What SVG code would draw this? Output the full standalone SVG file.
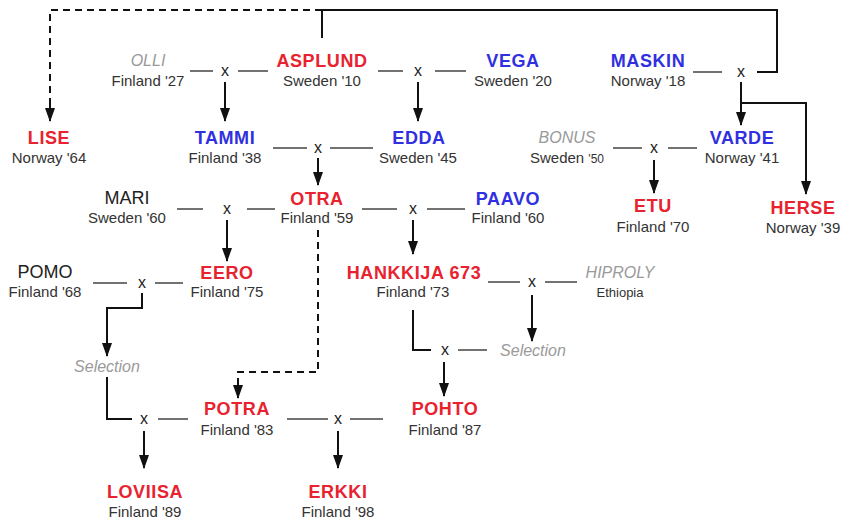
<svg xmlns="http://www.w3.org/2000/svg" width="851" height="521" viewBox="0 0 851 521">
<style>
text{font-family:"Liberation Sans",Arial,sans-serif;text-anchor:middle}
.n{font-size:18px;font-weight:bold;letter-spacing:0.6px}
.r{fill:#e8222e}
.b{fill:#3030e0}
.k{fill:#222;font-size:18px}
.g{fill:#9a9a9a;font-size:16px;font-style:italic}
.s{fill:#333;font-size:15px}
.e{fill:#333;font-size:13px}
.x{fill:#222;font-size:16px}
.t{stroke:#444;stroke-width:1.5;fill:none}
.a{stroke:#111;stroke-width:2;fill:none}
.d{stroke:#111;stroke-width:2;fill:none;stroke-dasharray:7 5}
.m{marker-end:url(#ah)}
</style>
<defs>
<marker id="ah" viewBox="0 0 14 10" refX="13" refY="5" markerWidth="14" markerHeight="10" markerUnits="userSpaceOnUse" orient="auto">
<path d="M0,0 L14,5 L0,10 z" fill="#111"/>
</marker>
</defs>
<rect width="851" height="521" fill="#fff"/>
<g id="connectors">
<path class="d" d="M322,10 H50 V110"/>
<path class="d m" d="M50,105 V121"/>
<path class="a" d="M322,38 V10 H777 V72 H757"/>
<path class="t" d="M190,71 H213 M238,71 H268 M378,71 H403 M435,71 H466 M693,72 H722"/>
<path class="t" d="M273,148 H307 M330,148 H373 M613,148 H642 M668,148 H697"/>
<path class="t" d="M177,209 H203 M247,209 H275 M362,209 H397 M427,209 H465"/>
<path class="t" d="M93,283 H127 M155,283 H183 M488,282 H520 M545,282 H577 M458,350 H487"/>
<path class="t" d="M158,419 H188 M287,419 H328 M350,419 H383"/>
<path class="a m" d="M225,82 V121"/>
<path class="a m" d="M418,82 V121"/>
<path class="a m" d="M741,82 V125"/>
<path class="a m" d="M741,103 H806 V194"/>
<path class="a m" d="M318,158 V185"/>
<path class="a m" d="M654,160 V193"/>
<path class="a m" d="M227,220 V261"/>
<path class="a m" d="M413,220 V254"/>
<path class="a m" d="M532,295 V341"/>
<path class="a" d="M413,310 V350 H431"/>
<path class="a m" d="M444,362 V396"/>
<path class="a m" d="M142,293 V308 H107 V356"/>
<path class="a" d="M107,377 V419 H132"/>
<path class="a m" d="M144,431 V468"/>
<path class="a m" d="M338,431 V468"/>
<path class="d" d="M318,230 V372 H238 V385"/>
<path class="a m" d="M238,383 V398"/>
</g>
<g id="crosses">
<text class="x" x="225" y="76">x</text>
<text class="x" x="418" y="76">x</text>
<text class="x" x="741" y="77">x</text>
<text class="x" x="318" y="153">x</text>
<text class="x" x="654" y="153">x</text>
<text class="x" x="227" y="214">x</text>
<text class="x" x="413" y="214">x</text>
<text class="x" x="142" y="288">x</text>
<text class="x" x="532" y="287">x</text>
<text class="x" x="445" y="355">x</text>
<text class="x" x="144" y="424">x</text>
<text class="x" x="338" y="424">x</text>
</g>
<g id="lise"><text class="n r" x="49" y="144">LISE</text><text class="s" x="49" y="163">Norway '64</text></g>
<g id="olli"><text class="g" x="148" y="66">OLLI</text><text class="s" x="148" y="86">Finland '27</text></g>
<g id="asplund"><text class="n r" x="322" y="67">ASPLUND</text><text class="s" x="322" y="86">Sweden '10</text></g>
<g id="vega"><text class="n b" x="513" y="67">VEGA</text><text class="s" x="513" y="86">Sweden '20</text></g>
<g id="maskin"><text class="n b" x="648" y="67">MASKIN</text><text class="s" x="648" y="86">Norway '18</text></g>
<g id="tammi"><text class="n b" x="225" y="144">TAMMI</text><text class="s" x="225" y="163">Finland '38</text></g>
<g id="edda"><text class="n b" x="419" y="144">EDDA</text><text class="s" x="418" y="163">Sweden '45</text></g>
<g id="bonus"><text class="g" x="567" y="143">BONUS</text><text class="s" x="567" y="163">Sweden <tspan font-size="12">'50</tspan></text></g>
<g id="varde"><text class="n b" x="742" y="144">VARDE</text><text class="s" x="742" y="163">Norway '41</text></g>
<g id="mari"><text class="k" x="127" y="204">MARI</text><text class="s" x="127" y="223">Sweden '60</text></g>
<g id="otra"><text class="n r" x="317" y="205">OTRA</text><text class="s" x="317" y="223">Finland '59</text></g>
<g id="paavo"><text class="n b" x="508" y="205">PAAVO</text><text class="s" x="508" y="223">Finland '60</text></g>
<g id="etu"><text class="n r" x="653" y="212">ETU</text><text class="s" x="653" y="232">Finland '70</text></g>
<g id="herse"><text class="n r" x="803" y="214">HERSE</text><text class="s" x="803" y="233">Norway '39</text></g>
<g id="pomo"><text class="k" x="45" y="278">POMO</text><text class="s" x="45" y="297">Finland '68</text></g>
<g id="eero"><text class="n r" x="227" y="279">EERO</text><text class="s" x="227" y="297">Finland '75</text></g>
<g id="hankkija"><text class="n r" x="414" y="279">HANKKIJA 673</text><text class="s" x="413" y="297">Finland '73</text></g>
<g id="hiproly"><text class="g" x="620" y="278">HIPROLY</text><text class="e" x="620" y="297">Ethiopia</text></g>
<g id="selection1"><text class="g" x="107" y="372">Selection</text></g>
<g id="selection2"><text class="g" x="533" y="356">Selection</text></g>
<g id="potra"><text class="n r" x="237" y="415">POTRA</text><text class="s" x="237" y="435">Finland '83</text></g>
<g id="pohto"><text class="n r" x="445" y="415">POHTO</text><text class="s" x="445" y="435">Finland '87</text></g>
<g id="loviisa"><text class="n r" x="145" y="498">LOVIISA</text><text class="s" x="145" y="517">Finland '89</text></g>
<g id="erkki"><text class="n r" x="338" y="498">ERKKI</text><text class="s" x="338" y="517">Finland '98</text></g>
</svg>
